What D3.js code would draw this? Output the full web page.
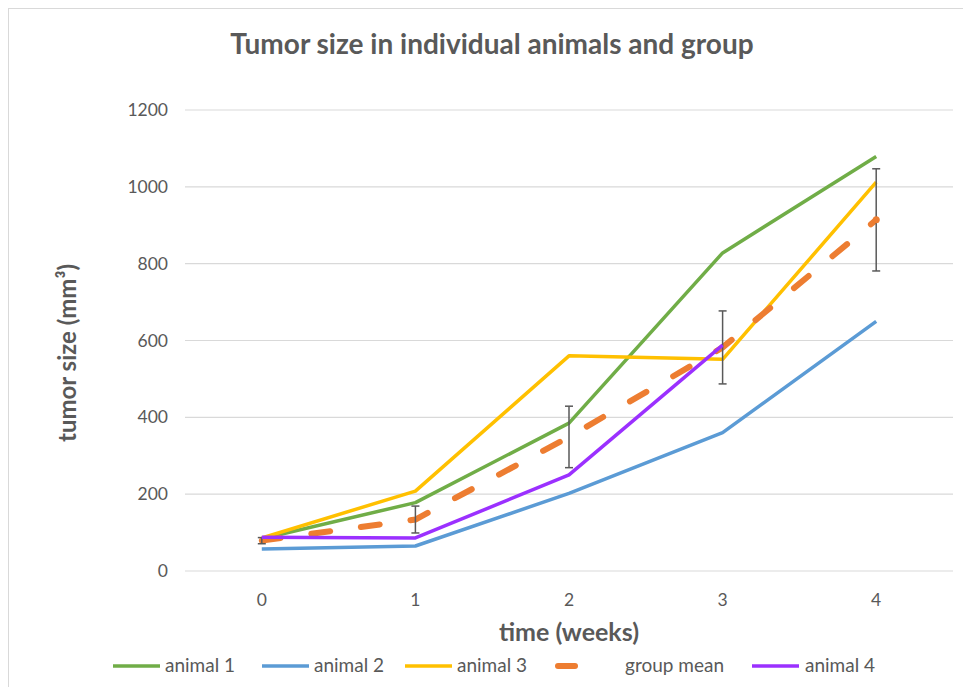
<!DOCTYPE html>
<html><head><meta charset="utf-8">
<script src="https://cdn.jsdelivr.net/npm/d3@7"></script>
<style>body{margin:0;background:#fff}svg{display:block}text{font-family:Lato,"Open Sans",sans-serif}</style>
</head><body>
<svg id="c" width="963" height="687"></svg>
<script>
const weeks = [0, 1, 2, 3, 4];
const animal1 = [84, 178, 385, 828, 1079];
const animal2 = [57, 65, 202, 360, 650];
const animal3 = [86, 208, 560, 551, 1012];
const animal4 = [88, 86, 250, 588, null];
const groupMean = [79, 134, 349, 582, 914];
const groupErr = [8, 35, 80, 95, 133];
const yTicks = [0, 200, 400, 600, 800, 1000, 1200];
const seriesNames = ["animal 1", "animal 2", "animal 3", "group mean", "animal 4"];
const seriesColors = ["#70AD47", "#5B9BD5", "#FFC000", "#ED7D31", "#9B30FF"];
const seriesValues = [animal1, animal2, animal3, groupMean, animal4];

const svg = d3.select("#c");
svg.append("rect").attr("x", 8.5).attr("y", 8.5).attr("width", 980).attr("height", 700)
  .attr("fill", "#fff").attr("stroke", "#d9d9d9");

const x = d3.scaleBand().domain(weeks).range([185, 953]);
const xc = d => x(d) + x.bandwidth() / 2;
const y = d3.scaleLinear().domain([0, 1200]).range([571, 110]);

// gridlines
svg.append("g").selectAll("line").data(yTicks).join("line")
  .attr("x1", 185).attr("x2", 953).attr("y1", d => y(d)).attr("y2", d => y(d))
  .attr("stroke", "#d9d9d9").attr("stroke-width", 1.2);

// y axis labels
const yAxis = svg.append("g").attr("transform", "translate(176,0)")
  .call(d3.axisLeft(y).tickValues(yTicks).tickSize(0).tickPadding(8).tickFormat(d3.format("d")));
yAxis.select(".domain").remove();
yAxis.selectAll("text").attr("font-size", 17.5).attr("fill", "#595959").attr("font-family", "Lato");

// x axis labels
const xAxis = svg.append("g").attr("transform", "translate(0,590)")
  .call(d3.axisBottom(x).tickSize(0).tickPadding(4));
xAxis.select(".domain").remove();
xAxis.selectAll("text").attr("font-size", 17.5).attr("fill", "#595959").attr("font-family", "Lato");

// title & axis titles
svg.append("text").attr("x", 492).attr("y", 54).attr("text-anchor", "middle")
  .attr("font-size", 28).attr("font-weight", "bold").attr("fill", "#595959")
  .text("Tumor size in individual animals and group");
svg.append("text").attr("transform", "translate(76,353) rotate(-90)").attr("text-anchor", "middle")
  .attr("font-size", 24).attr("font-weight", "bold").attr("fill", "#595959")
  .text("tumor size (mm³)");
svg.append("text").attr("x", 569).attr("y", 641).attr("text-anchor", "middle")
  .attr("font-size", 25).attr("font-weight", "bold").attr("fill", "#595959")
  .text("time (weeks)");

// lines
const line = d3.line().defined(d => d[1] != null).x(d => xc(d[0])).y(d => y(d[1]));
seriesValues.forEach((vals, i) => {
  const pts = weeks.map((w, j) => [w, vals[j]]);
  const p = svg.append("path").datum(pts).attr("d", line).attr("fill", "none")
    .attr("stroke", seriesColors[i]);
  if (seriesNames[i] === "group mean") {
    p.attr("stroke-width", 6).attr("stroke-dasharray", "19 31").attr("stroke-linecap", "round");
    const eb = svg.append("g").attr("stroke", "#595959").attr("stroke-width", 1.5);
    weeks.forEach((w, j) => {
      const cx = xc(w), y1 = y(groupMean[j] + groupErr[j]), y2 = y(groupMean[j] - groupErr[j]);
      eb.append("line").attr("x1", cx).attr("x2", cx).attr("y1", y1).attr("y2", y2);
      eb.append("line").attr("x1", cx - 4).attr("x2", cx + 4).attr("y1", y1).attr("y2", y1);
      eb.append("line").attr("x1", cx - 4).attr("x2", cx + 4).attr("y1", y2).attr("y2", y2);
    });
    svg.append("circle").attr("cx", xc(weeks[4])).attr("cy", y(groupMean[4])).attr("r", 3.5)
      .attr("fill", seriesColors[i]);
  } else {
    p.attr("stroke-width", 3.5).attr("stroke-linejoin", "round");
  }
});

// legend
const legX = [113, 262, 405, 555, 752];
const legTextX = [165, 314, 457, 625, 805];
const lg = svg.append("g");
seriesNames.forEach((n, i) => {
  if (n === "group mean") {
    lg.append("line").attr("x1", legX[i] + 3).attr("x2", legX[i] + 20).attr("y1", 666).attr("y2", 666)
      .attr("stroke", seriesColors[i]).attr("stroke-width", 6).attr("stroke-linecap", "round");
  } else {
    lg.append("line").attr("x1", legX[i]).attr("x2", legX[i] + 47).attr("y1", 666).attr("y2", 666)
      .attr("stroke", seriesColors[i]).attr("stroke-width", 3.5);
  }
  lg.append("text").attr("x", legTextX[i]).attr("y", 672).attr("font-size", 19)
    .attr("fill", "#595959").text(n);
});
</script>
</body></html>
